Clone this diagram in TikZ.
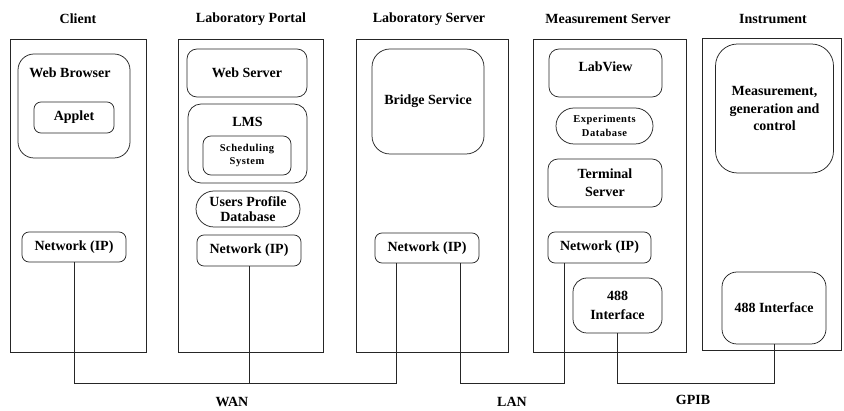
\documentclass[tikz,border=0pt]{standalone}
\usepackage{fontspec}
\setmainfont{Liberation Serif}
\newfontfamily\spacedserif[LetterSpace=5]{Liberation Serif}
\newcommand\mainfnt{\bfseries\fontsize{14}{17.5}\selectfont}
\newcommand\smallfnt{\spacedserif\bfseries\fontsize{10.5}{13.5}\selectfont}
\tikzset{
  lw/.style={line width=0.75pt, draw=black!85},
  outerbox/.style={lw, rectangle, inner sep=0pt},
  rbox/.style={lw, rectangle, rounded corners=#1, inner sep=0pt, align=center, font=\mainfnt},
  rbox/.default=8pt,
  txt/.style={font=\mainfnt, align=center, inner sep=0pt},
  stxt/.style={font=\smallfnt, align=center, inner sep=0pt},
  conn/.style={lw}
}
\begin{document}
\begin{tikzpicture}[x=1pt,y=-1pt]
\useasboundingbox (0,0) rectangle (844,411);

% titles
\node[txt] (tclient) at (78,19) {Client};
\node[txt] (tportal) at (251,19) {Laboratory Portal};
\node[txt] (tlabsrv) at (429,19) {Laboratory Server};
\node[txt] (tmeassrv) at (608,19) {Measurement Server};
\node[txt] (tinstr) at (773,19) {Instrument};

% outer boxes
\node[outerbox, minimum width=136pt, minimum height=313pt] (client) at (78,195.5) {};
\node[outerbox, minimum width=145pt, minimum height=313pt] (portal) at (250.5,195.5) {};
\node[outerbox, minimum width=152pt, minimum height=313pt] (labsrv) at (432,195.5) {};
\node[outerbox, minimum width=153pt, minimum height=313pt] (meassrv) at (609.5,195.5) {};
\node[outerbox, minimum width=139pt, minimum height=312pt] (instr) at (771.5,194) {};

% client
\node[rbox=16pt, minimum width=112pt, minimum height=104pt] (browser) at (74,106) {};
\node[txt] (browsert) at (70,73) {Web Browser};
\node[rbox=7pt, minimum width=80pt, minimum height=31pt] (applet) at (74,117.5) {Applet};
\node[rbox=7pt, minimum width=104pt, minimum height=30pt] (net1) at (74,247) {Network (IP)};

% portal
\node[rbox=10pt, minimum width=120pt, minimum height=48pt] (websrv) at (247,73) {Web Server};
\node[rbox=13pt, minimum width=119pt, minimum height=79pt] (lms) at (247.5,143.5) {};
\node[txt] (lmst) at (247.5,122) {LMS};
\node[rbox=8pt, minimum width=88pt, minimum height=39pt, font=\smallfnt] (sched) at (247,155.5) {Scheduling\\System};
\node[rbox=18pt, minimum width=104pt, minimum height=36pt, font=\bfseries\fontsize{14}{15}\selectfont] (usersdb) at (248,209) {Users Profile\\Database};
\node[rbox=7pt, minimum width=104pt, minimum height=31pt] (net2) at (249,250.5) {Network (IP)};

% laboratory server
\node[rbox=18pt, minimum width=112pt, minimum height=105pt] (bridge) at (428,101.5) {Bridge Service};
\node[rbox=7pt, minimum width=104pt, minimum height=30pt] (net3) at (427,248) {Network (IP)};

% measurement server
\node[rbox=10pt, minimum width=113pt, minimum height=48pt] (labview) at (605.5,73) {};
\node[txt] (labviewt) at (605.5,67) {LabView};
\node[rbox=18pt, minimum width=97pt, minimum height=36pt, font=\smallfnt] (expdb) at (604.5,126) {Experiments\\Database};
\node[rbox=10pt, minimum width=114pt, minimum height=48pt, font=\bfseries\fontsize{14}{18}\selectfont] (term) at (605,183) {Terminal\\Server};
\node[rbox=7pt, minimum width=103pt, minimum height=31pt] (net4) at (599.5,247.5) {Network (IP)};
\node[rbox=14pt, minimum width=89pt, minimum height=55pt, font=\bfseries\fontsize{14}{19}\selectfont] (ifa) at (617.5,305.5) {488\\Interface};

% instrument
\node[rbox=22pt, minimum width=118pt, minimum height=129pt, font=\bfseries\fontsize{14}{17.5}\selectfont] (mgc) at (774.5,108.5) {Measurement,\\generation and\\control};
\node[rbox=15pt, minimum width=104pt, minimum height=72pt] (ifb) at (774,308) {488 Interface};

% connectors
\coordinate (bus) at (0,383);
\coordinate (p3a) at ([xshift=-31pt]net3.south);
\coordinate (p3b) at ([xshift=33pt]net3.south);
\coordinate (p4) at ([xshift=-35.5pt]net4.south);
\draw[conn] (net1.south) -- (net1.south |- bus) -- (p3a |- bus) -- (p3a);
\draw[conn] (net2.south) -- (net2.south |- bus);
\draw[conn] (p3b) -- (p3b |- bus) -- (p4 |- bus) -- (p4);
\draw[conn] (ifa.south) -- (ifa.south |- bus) -- (ifb.south |- bus) -- (ifb.south);

% network labels
\node[txt] (wan) at (232,402) {WAN};
\node[txt] (lan) at (512,402) {LAN};
\node[txt] (gpib) at (693,400) {GPIB};
\end{tikzpicture}
\end{document}
